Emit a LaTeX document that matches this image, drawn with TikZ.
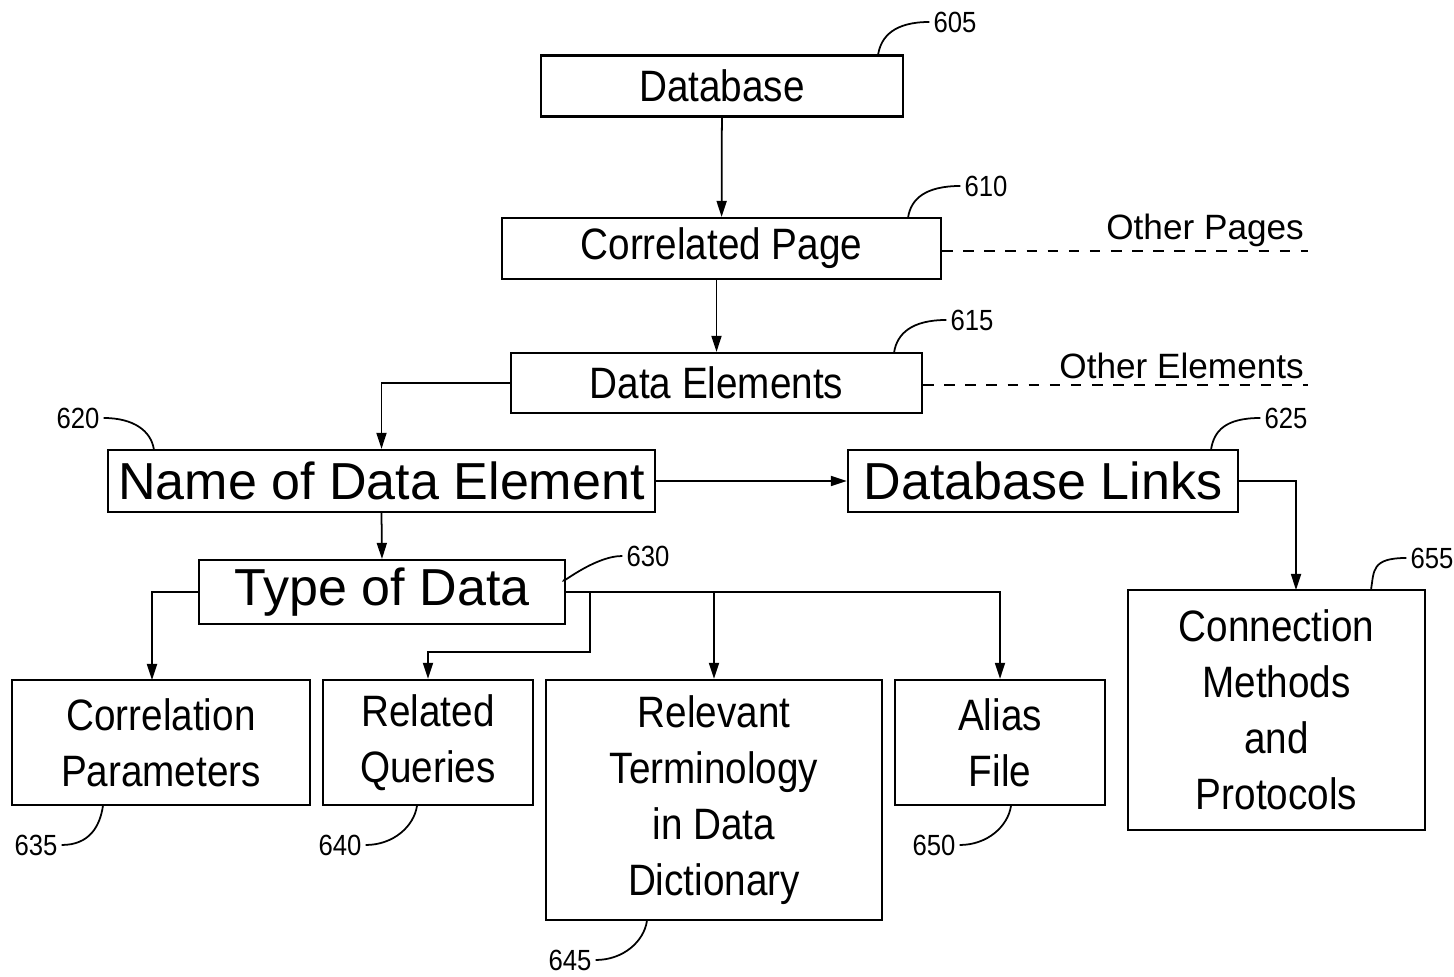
\documentclass[tikz,border=0pt]{standalone}
\usepackage{fontspec}
\setmainfont{Liberation Sans}
\newfontfamily\narrowfont[FakeStretch=0.88]{Liberation Sans}
\usetikzlibrary{arrows.meta}

\begin{document}
\begin{tikzpicture}[x=0.01cm,y=-0.01cm,
    box/.style={draw=black,line width=0.6pt,inner sep=0pt,align=center},
    narrowtext/.style={font=\narrowfont\fontsize{12.5pt}{15.9pt}\selectfont},
    widetext/.style={font=\fontsize{14.8pt}{16pt}\selectfont},
    refnum/.style={inner sep=1pt,font=\narrowfont\fontsize{8.3pt}{9pt}\selectfont},
    arr/.style={line width=0.5pt,-{Triangle[length=1.6mm,width=1mm]}},
    leader/.style={line width=0.5pt},
    other/.style={line width=0.5pt,dashed}]
               \useasboundingbox (0,0) rectangle (1454,977);
               % top boxes
               \node [box,narrowtext,minimum width=3.62cm,minimum height=0.61cm] (db) at (722,86) {Database};
               \node [box,narrowtext,minimum width=4.39cm,minimum height=0.61cm] (page) at (721.5,248.5) {Correlated Page};
               \node [box,narrowtext,minimum width=4.11cm,minimum height=0.60cm] (elems) at (716.5,383) {Data Elements};
               % middle boxes
               \node [box,widetext,minimum width=5.47cm,minimum height=0.62cm] (name) at (381.5,481) {Name of Data Element};
               \node [box,widetext,minimum width=3.90cm,minimum height=0.62cm] (links) at (1043,481) {Database Links};
               \node [box,widetext,minimum width=3.66cm,minimum height=0.64cm] (typ) at (382,592) {Type of Data};
               % bottom boxes
               \node [box,narrowtext,minimum width=2.98cm,minimum height=1.25cm] (corr) at (161,742.5) {Correlation\\Parameters};
               \node [box,narrowtext,minimum width=2.10cm,minimum height=1.25cm] (query) at (428,742.5) {Related\\Queries};
               \node [box,narrowtext,minimum width=3.36cm,minimum height=2.40cm] (term) at (714,800) {Relevant\\Terminology\\in Data\\Dictionary};
               \node [box,narrowtext,minimum width=2.10cm,minimum height=1.25cm] (alias) at (1000,742.5) {Alias\\File};
               \node [box,narrowtext,minimum width=2.97cm,minimum height=2.40cm] (conn) at (1276.5,710) {Connection\\Methods\\and\\Protocols};
               % arrows down the middle
               \draw [arr] (db) -- (page);
               \draw [arr] (page.south -| elems.north) -- (elems.north);
               \draw [arr] (elems.west) -| (name.north);
               \draw [arr] (name.east) -- (links.west);
               \draw [arr] (name.south) -- (typ.north);
               % links to connection box
               \coordinate (cin) at (1296,590);
               \draw [arr] (links.east) -| (cin);
               % type of data branches
               \coordinate (cpar) at (152,680);
               \coordinate (qbend) at (590,652);
               \draw [arr] (typ.west) -| (cpar);
               \draw [arr] (typ.east) -| (alias.north);
               \draw [arr] (typ.east -| term.north) -- (term.north);
               \draw [arr] (typ.east -| qbend) -- (qbend) -| (query.north);
               % other pages / elements
               \coordinate (pend) at (1308,251);
               \coordinate (eend) at (1308,385);
               \draw [other] (page.east |- pend) -- (pend);
               \draw [other] (elems.east |- eend) -- (eend);
               \node [anchor=south east,inner sep=1pt,font=\fontsize{10pt}{12pt}\selectfont] (opages) at (pend) {Other Pages};
               \node [anchor=south east,inner sep=1pt,font=\fontsize{10pt}{12pt}\selectfont] (oelems) at ([yshift=0.02cm]eend) {Other Elements};
               % reference numbers
               \node [refnum] (n605) at (955,22) {605};
               \node [refnum] (n610) at (986,186) {610};
               \node [refnum] (n615) at (972,320) {615};
               \node [refnum] (n620) at (78,418) {620};
               \node [refnum] (n625) at (1286,418) {625};
               \node [refnum] (n630) at (648,556) {630};
               \node [refnum] (n655) at (1432,558) {655};
               \node [refnum] (n635) at (36,845) {635};
               \node [refnum] (n640) at (340,845) {640};
               \node [refnum] (n645) at (570,960) {645};
               \node [refnum] (n650) at (934,845) {650};
               % leaders
               \draw [leader] (n605.west) .. controls +(-35,0) and +(3,-18) .. ([xshift=-0.26cm]db.north east);
               \draw [leader] (n610.west) .. controls +(-35,0) and +(3,-18) .. ([xshift=-0.34cm]page.north east);
               \draw [leader] (n615.west) .. controls +(-35,0) and +(3,-18) .. ([xshift=-0.29cm]elems.north east);
               \draw [leader] (n620.east) .. controls +(30,0) and +(-3,-18) .. ([xshift=0.47cm]name.north west);
               \draw [leader] (n625.west) .. controls +(-35,0) and +(3,-18) .. ([xshift=-0.28cm]links.north east);
               \draw [leader] (n630.west) .. controls +(-30,0) and +(-12,12) .. ([yshift=0.14cm]typ.east);
               \draw [leader] (n655.west) .. controls +(-35,0) and +(3,-18) .. ([xshift=-0.55cm]conn.north east);
               \draw [leader] (n635.east) .. controls +(28,0) and +(-3,20) .. ([xshift=0.92cm]corr.south west);
               \draw [leader] (n640.east) .. controls +(28,0) and +(-3,20) .. ([xshift=0.95cm]query.south west);
               \draw [leader] (n645.east) .. controls +(28,0) and +(-3,20) .. ([xshift=1.02cm]term.south west);
               \draw [leader] (n650.east) .. controls +(28,0) and +(-3,20) .. ([xshift=1.17cm]alias.south west);
\end{tikzpicture}
\end{document}
